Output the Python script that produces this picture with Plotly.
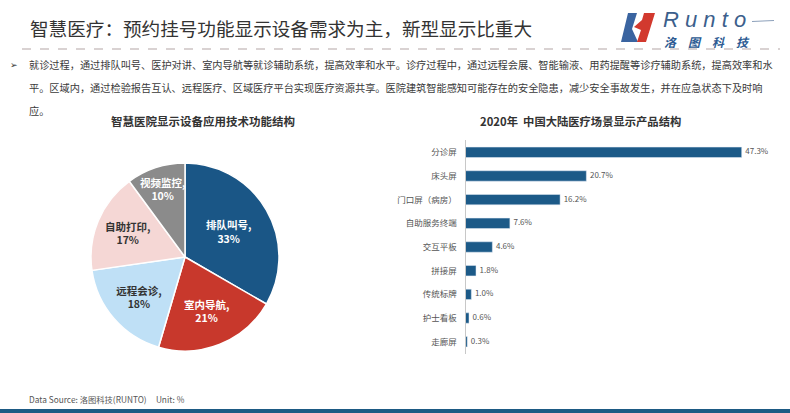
import plotly.graph_objects as go

W, H = 790, 413

# ---- data ----
pie_labels = ["排队叫号", "室内导航", "远程会诊", "自助打印", "视频监控"]
pie_values = [33, 21, 18, 17, 10]
pie_colors = ["#1a5686", "#c8382c", "#bfe0f6", "#f5d7d5", "#8b8b8b"]
pie_text_colors = ["white", "white", "#333333", "#333333", "white"]

bar_categories = ["分诊屏", "床头屏", "门口屏（病房）", "自助服务终端", "交互平板",
                  "拼接屏", "传统标牌", "护士看板", "走廊屏"]
bar_values = [47.3, 20.7, 16.2, 7.6, 4.6, 1.8, 1.0, 0.6, 0.3]

title_text = "智慧医疗：预约挂号功能显示设备需求为主，新型显示比重大"
body_lines = [
    "就诊过程，通过排队叫号、医护对讲、室内导航等就诊辅助系统，提高效率和水平。诊疗过程中，通过远程会展、智能输液、用药提醒等诊疗辅助系统，提高效率和水",
    "平。区域内，通过检验报告互认、远程医疗、区域医疗平台实现医疗资源共享。医院建筑智能感知可能存在的安全隐患，减少安全事故发生，并在应急状态下及时响",
    "应。",
]
pie_title = "智慧医院显示设备应用技术功能结构"
bar_title = "2020年  中国大陆医疗场景显示产品结构"
source_text = "Data Source: 洛图科技(RUNTO)     Unit: %"
logo_en = "R u n t o"
logo_cn = "洛　图　科　技"

FONT = "Noto Sans CJK SC"


def px(x):
    return x / W


def py(y):
    return 1 - y / H


fig = go.Figure()

# pie
cx, cy, r = 185, 257, 94
fig.add_trace(go.Pie(
    labels=pie_labels, values=pie_values, sort=False, direction="clockwise",
    rotation=0,
    marker=dict(colors=pie_colors, line=dict(color="white", width=1.5)),
    texttemplate="%{label},<br>%{value}%", textposition="inside",
    insidetextorientation="horizontal",
    textfont=dict(family=FONT, size=10.5, color=pie_text_colors, weight="bold"),
    hoverinfo="label+value", showlegend=False,
    domain=dict(x=[px(cx - r), px(cx + r)], y=[py(cy + r), py(cy - r)]),
))

# bars
fig.add_trace(go.Bar(
    y=bar_categories, x=bar_values, orientation="h", width=0.44,
    marker=dict(color="#1c5a88"), showlegend=False,
))
# bar value labels
fig.add_trace(go.Scatter(
    y=bar_categories, x=bar_values, mode="text",
    text=[f"  {v:.1f}%" for v in bar_values], textposition="middle right",
    textfont=dict(family=FONT, size=8, color="#555555"),
    cliponaxis=False, showlegend=False, hoverinfo="skip",
))

x0, x473 = 465.5, 741.7
unit = (x473 - x0) / 47.3
xr = 55
x_end = x0 + xr * unit
ytop, step = 152.3 - 23.675 / 2, 23.675
ybot = ytop + 9 * step

fig.update_layout(
    width=W, height=H, margin=dict(l=0, r=0, t=0, b=0),
    paper_bgcolor="white", plot_bgcolor="white",
    uniformtext=dict(minsize=10.5, mode="show"),
    xaxis=dict(domain=[px(x0), px(x_end)], range=[0, xr], visible=False),
    yaxis=dict(domain=[py(ybot), py(ytop)], range=[8.5, -0.5],
               showline=True, linecolor="#c8c8c8", linewidth=1,
               showgrid=False, ticks="", ticklabelstandoff=6,
               tickfont=dict(family=FONT, size=8.5, color="#555555")),
)

ann = []
ann.append(dict(x=px(28), y=py(27), xref="paper", yref="paper", xanchor="left", yanchor="middle",
                text=title_text, showarrow=False,
                font=dict(family=FONT, size=18.6, color="#333333")))
ann.append(dict(x=px(8), y=py(65), xref="paper", yref="paper", xanchor="left", yanchor="middle",
                text="➢", showarrow=False, font=dict(family="DejaVu Sans", size=9, color="#333333")))
for i, line in enumerate(body_lines):
    ann.append(dict(x=px(27), y=py(65 + i * 22.5), xref="paper", yref="paper",
                    xanchor="left", yanchor="middle", text=line, showarrow=False,
                    font=dict(family=FONT, size=10.2, color="#3a3a3a")))
ann.append(dict(x=px(203), y=py(121), xref="paper", yref="paper", xanchor="center", yanchor="middle",
                text=pie_title, showarrow=False,
                font=dict(family=FONT, size=11.5, color="#333333", weight="bold")))
ann.append(dict(x=px(580), y=py(121), xref="paper", yref="paper", xanchor="center", yanchor="middle",
                text=bar_title, showarrow=False,
                font=dict(family=FONT, size=11.3, color="#333333", weight="bold")))
ann.append(dict(x=px(27), y=py(399), xref="paper", yref="paper", xanchor="left", yanchor="middle",
                text=source_text, showarrow=False,
                font=dict(family=FONT, size=8.3, color="#555555")))
# logo text
ann.append(dict(x=px(661), y=py(19), xref="paper", yref="paper", xanchor="left", yanchor="middle",
                text="<i>" + logo_en + "</i>", showarrow=False,
                font=dict(family="Liberation Sans", size=22, color="#3c5f8c")))
ann.append(dict(x=px(662), y=py(41), xref="paper", yref="paper", xanchor="left", yanchor="middle",
                text="<i><b>" + logo_cn + "</b></i>", showarrow=False,
                font=dict(family=FONT, size=12, color="#2c5a92")))
fig.update_layout(annotations=ann)


def path(pts):
    return "M " + " L ".join(f"{px(a):.5f},{py(b):.5f}" for a, b in pts) + " Z"


shapes = [
    dict(type="line", xref="paper", yref="paper", x0=px(22), x1=px(780), y0=py(49), y1=py(49),
         line=dict(color="#b4a6a6", width=1.2, dash="dash")),
    dict(type="rect", xref="paper", yref="paper", x0=0, x1=1, y0=0, y1=py(409),
         line=dict(width=0), fillcolor="#1d5a84"),
    dict(type="line", xref="paper", yref="paper", x0=px(752), x1=px(774), y0=py(21.5), y1=py(20.5),
         line=dict(color="#6f88a8", width=0.8)),
    # logo marks
    dict(type="path", xref="paper", yref="paper", line=dict(width=0), fillcolor="#3a64a0",
         path=path([(628, 13), (637, 13), (632, 29), (638, 42), (621, 42)])),
    dict(type="path", xref="paper", yref="paper", line=dict(width=0), fillcolor="#d2392e",
         path=path([(644, 13), (655, 13), (646, 42), (637, 42), (641, 30), (634, 27), (642, 20)])),
]
fig.update_layout(shapes=shapes)

fig.write_html("out.html", post_script="document.body.style.margin='0';",
               config={"displayModeBar": False})
